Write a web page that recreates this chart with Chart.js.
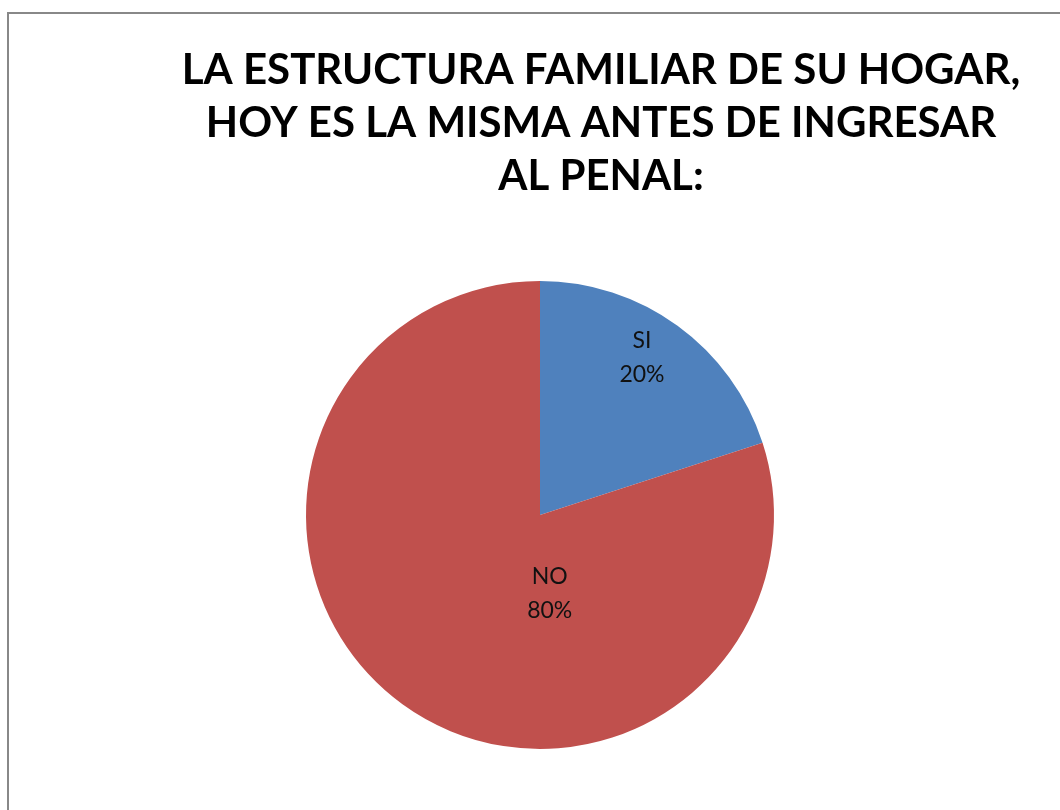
<!DOCTYPE html>
<html><head><meta charset="utf-8">
<script src="https://cdn.jsdelivr.net/npm/chart.js@4.4.1/dist/chart.umd.min.js"></script>
<style>
html,body{margin:0;padding:0;background:#fff;overflow:hidden;}
#frame{position:absolute;left:7px;top:12px;width:1100px;height:850px;border:2px solid #888;box-sizing:border-box;}
#wrap{position:absolute;left:0;top:0;width:1060px;height:810px;}
</style></head>
<body>
<div id="frame"></div>
<div id="wrap"><canvas id="c" width="1060" height="810"></canvas></div>
<script>
const titleLines = ["LA ESTRUCTURA FAMILIAR DE SU HOGAR,", "HOY ES LA MISMA ANTES DE INGRESAR", "AL PENAL:"];
const categories = ["SI", "NO"];
const values = [20, 80];
const colors = ["#4F81BD", "#C0504D"];
// label anchor per slice: [fraction of radius, angle in degrees clockwise from top]
const labelAnchors = [[0.80, 33], [0.34, 173]];

const titlePlugin = {
  id: 'customTitle',
  afterDraw(chart) {
    const ctx = chart.ctx;
    ctx.save();
    ctx.fillStyle = '#000';
    ctx.font = 'bold 42px Lato';
    ctx.textAlign = 'center';
    ctx.textBaseline = 'middle';
    titleLines.forEach((t, i) => ctx.fillText(t, 601, 70 + i * 53));
    ctx.restore();
  }
};
const labelPlugin = {
  id: 'sliceLabels',
  afterDatasetsDraw(chart) {
    const ctx = chart.ctx;
    const meta = chart.getDatasetMeta(0);
    const total = values.reduce((a, b) => a + b, 0);
    ctx.save();
    ctx.fillStyle = '#111';
    ctx.font = '23px Lato';
    ctx.textAlign = 'center';
    ctx.textBaseline = 'middle';
    meta.data.forEach((arc, i) => {
      const r = arc.outerRadius * labelAnchors[i][0];
      const a = labelAnchors[i][1] * Math.PI / 180;
      const x = arc.x + r * Math.sin(a);
      const y = arc.y - r * Math.cos(a);
      ctx.fillText(categories[i], x, y - 17);
      ctx.fillText(Math.round(values[i] / total * 100) + '%', x, y + 17);
    });
    ctx.restore();
  }
};

new Chart(document.getElementById('c'), {
  type: 'pie',
  data: { labels: categories, datasets: [{ data: values, backgroundColor: colors, borderWidth: 0 }] },
  options: {
    responsive: false,
    animation: false,
    layout: { padding: { top: 281, bottom: 61, left: 20, right: 0 } },
    plugins: { legend: { display: false }, tooltip: { enabled: false }, title: { display: false } }
  },
  plugins: [titlePlugin, labelPlugin]
});
</script>
</body></html>
